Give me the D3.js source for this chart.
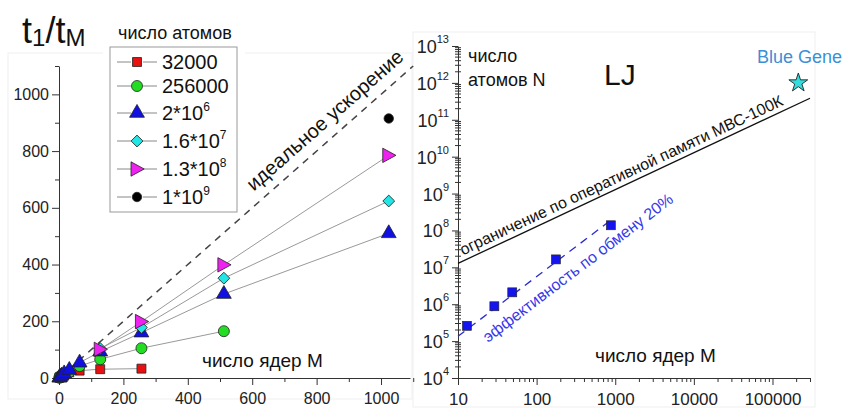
<!DOCTYPE html>
<html>
<head>
<meta charset="utf-8">
<script src="https://cdn.jsdelivr.net/npm/d3@7"></script>
<style>
  body { margin: 0; background: #fff; }
  svg { font-family: "Liberation Sans", Arial, sans-serif; }
  .axis path, .axis line { stroke: #333; }
  .axis text { font-size: 16px; fill: #222; }
  .axisR text { font-size: 17px; }
</style>
</head>
<body>
<svg id="chart" width="850" height="409"></svg>
<script>
// ---- left panel: speedup t1/tM vs cores M ----
var cores = [1, 2, 4, 8, 16, 32, 64, 128, 256, 512, 1024];
var s32000  = [1, 2, 4, 7.5, 13, 20, 26, 31, 33];
var s256000 = [1, 2, 4, 8, 15, 21, 42, 66, 105, 165];
var s2e6    = [1, 2, 4, 8, 16, 28, 54, 93, 160, 296, 510];
var s16e7   = [null, null, null, null, null, null, null, 104, 178, 352, 624];
var s13e8   = [null, null, null, null, null, null, null, 101, 199, 399, 785];
var s1e9    = [null, null, null, null, null, null, null, null, null, null, 915];
var legendLabels = [["32000", ""], ["256000", ""], ["2*10", "6"], ["1.6*10", "7"], ["1.3*10", "8"], ["1*10", "9"]];
var idealX = [0, 1100];
var xTicksL = [0, 200, 400, 600, 800, 1000];
var yTicksL = [0, 200, 400, 600, 800, 1000];

// ---- right panel: atoms N vs cores M (log-log) ----
var ljCores = [13, 29, 49, 176, 880];
var ljAtoms = [2.6e5, 8.8e5, 2.1e6, 1.64e7, 1.38e8];
var effLineM = [10, 850];
var effLineN = [1.35e5, 1.8e8];
var memLineM = [10, 3e5];
var memLineN = [1.28e7, 3.84e11];
var blueGene = {M: 212992, N: 1e12};
var xTicksR = [10, 100, 1000, 10000, 100000];
var yExpR = [4, 5, 6, 7, 8, 9, 10, 11, 12, 13];

var svg = d3.select("#chart");

// faint panel outlines
svg.append("rect").attr("x", 8).attr("y", 53).attr("width", 404).attr("height", 346)
    .attr("fill", "none").attr("stroke", "#efefef");
svg.append("rect").attr("x", 413).attr("y", 32).attr("width", 402).attr("height", 375)
    .attr("fill", "none").attr("stroke", "#efefef");

// ================= left chart =================
var xL = d3.scaleLinear().domain([0, 1090]).range([59, 410]);
var yL = d3.scaleLinear().domain([0, 1100]).range([378, 66]);

var gxL = svg.append("g").attr("class", "axis").attr("transform", "translate(0,378)")
    .call(d3.axisBottom(xL).tickValues(xTicksL).tickSize(7).tickSizeOuter(0).tickFormat(d3.format("d")));
svg.append("g").attr("class", "axis").attr("transform", "translate(0,378)")
    .call(d3.axisBottom(xL).tickValues(xTicksL.map(function(d){return d + 100;})).tickSize(4).tickFormat("").tickSizeOuter(0))
    .select(".domain").remove();
gxL.selectAll("text").attr("dy", "1.0em");

var gyL = svg.append("g").attr("class", "axis").attr("transform", "translate(59,0)")
    .call(d3.axisLeft(yL).tickValues(yTicksL).tickSize(7).tickSizeOuter(0).tickFormat(d3.format("d")));
svg.append("g").attr("class", "axis").attr("transform", "translate(59,0)")
    .call(d3.axisLeft(yL).tickValues(yTicksL.map(function(d){return d + 100;})).tickSize(4).tickFormat("").tickSizeOuter(0))
    .select(".domain").remove();
gyL.selectAll("text").attr("x", -10);

// ideal speedup line
svg.append("line")
    .attr("x1", xL(idealX[0])).attr("y1", yL(idealX[0]))
    .attr("x2", xL(idealX[1])).attr("y2", yL(idealX[1]))
    .attr("stroke", "#444").attr("stroke-width", 1.5).attr("stroke-dasharray", "7,6");
var ang = Math.atan2(yL(1000) - yL(0), xL(1000) - xL(0)) * 180 / Math.PI;
svg.append("text")
    .attr("transform", "translate(" + xL(862) + "," + yL(862) + ") rotate(" + ang + ")")
    .attr("y", -11)
    .attr("text-anchor", "middle").attr("font-size", 20).attr("fill", "#111")
    .text("идеальное ускорение");

// markers
function rightTri(s) {
    return "M" + (-s * 0.5) + "," + (-s * 0.6) + "L" + (s * 0.6) + ",0L" + (-s * 0.5) + "," + (s * 0.6) + "Z";
}
var seriesL = [
    {vals: s32000,  fill: "#e81010", sym: d3.symbol().type(d3.symbolSquare).size(80)()},
    {vals: s256000, fill: "#22dd22", sym: d3.symbol().type(d3.symbolCircle).size(95)()},
    {vals: s2e6,    fill: "#1010e0", sym: d3.symbol().type(d3.symbolTriangle).size(95)()},
    {vals: s16e7,   fill: "#22e5e5", sym: d3.symbol().type(d3.symbolSquare).size(70)(), rot: 45},
    {vals: s13e8,   fill: "#ee22ee", sym: rightTri(12)},
    {vals: s1e9,    fill: "#000000", sym: d3.symbol().type(d3.symbolCircle).size(70)()}
];

var lineL = d3.line()
    .defined(function(d){ return d.v != null; })
    .x(function(d){ return xL(d.m); })
    .y(function(d){ return yL(d.v); });

seriesL.forEach(function(s) {
    var pts = s.vals.map(function(v, i){ return {m: cores[i], v: v}; });
    svg.append("path").datum(pts).attr("d", lineL)
        .attr("fill", "none").attr("stroke", "#999").attr("stroke-width", 1);
});
seriesL.forEach(function(s) {
    var pts = s.vals.map(function(v, i){ return {m: cores[i], v: v}; })
        .filter(function(d){ return d.v != null; });
    svg.append("g").selectAll("path").data(pts).enter().append("path")
        .attr("d", s.sym)
        .attr("transform", function(d){ return "translate(" + xL(d.m) + "," + yL(d.v) + ")" + (s.rot ? " rotate(" + s.rot + ")" : ""); })
        .attr("fill", s.fill).attr("stroke", "#222").attr("stroke-width", 0.8);
});

// legend
svg.append("rect").attr("x", 103).attr("y", 45).attr("width", 142).attr("height", 10).attr("fill", "#fff");
svg.append("rect").attr("x", 110).attr("y", 47).attr("width", 127).attr("height", 165)
    .attr("fill", "#fff").attr("stroke", "#999");
svg.append("text").attr("x", 118).attr("y", 39).attr("font-size", 18).attr("fill", "#111").text("число атомов");
var legRows = [62, 86, 113, 141, 169, 197];
seriesL.forEach(function(s, i) {
    var y = legRows[i];
    svg.append("line").attr("x1", 117).attr("x2", 131).attr("y1", y).attr("y2", y).attr("stroke", "#888");
    svg.append("line").attr("x1", 143).attr("x2", 157).attr("y1", y).attr("y2", y).attr("stroke", "#888");
    svg.append("path").attr("d", s.sym)
        .attr("transform", "translate(137," + y + ")" + (s.rot ? " rotate(" + s.rot + ")" : ""))
        .attr("fill", s.fill).attr("stroke", "#222").attr("stroke-width", 0.8);
    var t = svg.append("text").attr("x", 162).attr("y", y + 7).attr("font-size", 20).attr("fill", "#111");
    t.append("tspan").text(legendLabels[i][0]);
    if (legendLabels[i][1]) t.append("tspan").attr("dy", -9).attr("font-size", 12).text(legendLabels[i][1]);
});

// title t1/tM
var title = svg.append("text").attr("x", 22).attr("y", 43).attr("font-size", 36).attr("fill", "#111");
title.append("tspan").text("t");
title.append("tspan").attr("font-size", 24).attr("dy", 3).text("1");
title.append("tspan").attr("dy", -3).text("/t");
title.append("tspan").attr("font-size", 24).attr("dy", 3).text("M");

svg.append("text").attr("x", 202).attr("y", 367).attr("font-size", 19).attr("fill", "#111").text("число ядер М");

// ================= right chart =================
var xR = d3.scaleLog().domain([10, 3e5]).range([458, 810]);
var yR = d3.scaleLog().domain([1e4, 1e13]).range([378, 46]);

var minorX = [];
for (var e = 1; e <= 5; e++) for (var k = 2; k <= 9; k++) { var v = k * Math.pow(10, e); if (v <= 3e5) minorX.push(v); }
var minorY = [];
for (var e2 = 4; e2 < 13; e2++) for (var k2 = 2; k2 <= 9; k2++) minorY.push(k2 * Math.pow(10, e2));

var gxR = svg.append("g").attr("class", "axis axisR").attr("transform", "translate(0,378)")
    .call(d3.axisBottom(xR).tickValues(xTicksR).tickSize(7).tickSizeOuter(0).tickFormat(d3.format("d")));
gxR.selectAll("text").attr("dy", "1.0em");
svg.append("g").attr("class", "axis").attr("transform", "translate(0,378)")
    .call(d3.axisBottom(xR).tickValues(minorX).tickSize(4).tickFormat("").tickSizeOuter(0))
    .select(".domain").remove();

svg.append("g").attr("class", "axis").attr("transform", "translate(458,0)")
    .call(d3.axisLeft(yR).tickValues(yExpR.map(function(p){ return Math.pow(10, p); })).tickSize(6).tickSizeOuter(0).tickFormat(""));
svg.append("g").selectAll("line").data(minorY).enter().append("line")
    .attr("x1", 455).attr("x2", 461)
    .attr("y1", function(d){ return yR(d); }).attr("y2", function(d){ return yR(d); })
    .attr("stroke", "#333");
yExpR.forEach(function(p) {
    var t = svg.append("text").attr("x", 449).attr("y", yR(Math.pow(10, p)) + 7)
        .attr("text-anchor", "end").attr("font-size", 18).attr("fill", "#222");
    t.append("tspan").text("10");
    t.append("tspan").attr("dy", -10).attr("font-size", 11).text(p);
});

// memory limit line
svg.append("line")
    .attr("x1", xR(memLineM[0])).attr("y1", yR(memLineN[0]))
    .attr("x2", xR(memLineM[1])).attr("y2", yR(memLineN[1]))
    .attr("stroke", "#111").attr("stroke-width", 1.3);
var angMem = Math.atan2(yR(memLineN[1]) - yR(memLineN[0]), xR(memLineM[1]) - xR(memLineM[0])) * 180 / Math.PI;
svg.append("text")
    .attr("transform", "translate(" + (xR(memLineM[0]) + 5) + "," + (yR(memLineN[0]) - 8) + ") rotate(" + angMem + ")")
    .attr("font-size", 16).attr("fill", "#111")
    .text("ограничение по оперативной памяти МВС-100К");

// exchange efficiency line
svg.append("line")
    .attr("x1", xR(effLineM[0])).attr("y1", yR(effLineN[0]))
    .attr("x2", xR(effLineM[1])).attr("y2", yR(effLineN[1]))
    .attr("stroke", "#2a2ad0").attr("stroke-width", 1.3).attr("stroke-dasharray", "8,6");
var angEff = Math.atan2(yR(effLineN[1]) - yR(effLineN[0]), xR(effLineM[1]) - xR(effLineM[0])) * 180 / Math.PI;
svg.append("text")
    .attr("transform", "translate(488,343) rotate(" + angEff + ")")
    .attr("font-size", 16).attr("fill", "#3838e8")
    .text("эффективность по обмену 20%");

svg.append("g").selectAll("rect").data(ljCores).enter().append("rect")
    .attr("x", function(d){ return xR(d) - 4.5; })
    .attr("y", function(d, i){ return yR(ljAtoms[i]) - 4.5; })
    .attr("width", 9).attr("height", 9)
    .attr("fill", "#1414ee").attr("stroke", "#222").attr("stroke-width", 0.6);

// Blue Gene star
svg.append("path")
    .attr("d", d3.symbol().type(d3.symbolStar).size(110)())
    .attr("transform", "translate(" + xR(blueGene.M) + "," + yR(blueGene.N) + ")")
    .attr("fill", "#33dddd").attr("stroke", "#222").attr("stroke-width", 0.9);
svg.append("text").attr("x", 757).attr("y", 63).attr("font-size", 18).attr("fill", "#3a8fd8").text("Blue Gene");

svg.append("text").attr("x", 468).attr("y", 62).attr("font-size", 18).attr("fill", "#111").text("число");
svg.append("text").attr("x", 468).attr("y", 86).attr("font-size", 18).attr("fill", "#111").text("атомов N");
svg.append("text").attr("x", 604).attr("y", 85).attr("font-size", 30).attr("fill", "#111").text("LJ");
svg.append("text").attr("x", 595).attr("y", 362).attr("font-size", 19).attr("fill", "#111").text("число ядер М");
</script>
</body>
</html>
